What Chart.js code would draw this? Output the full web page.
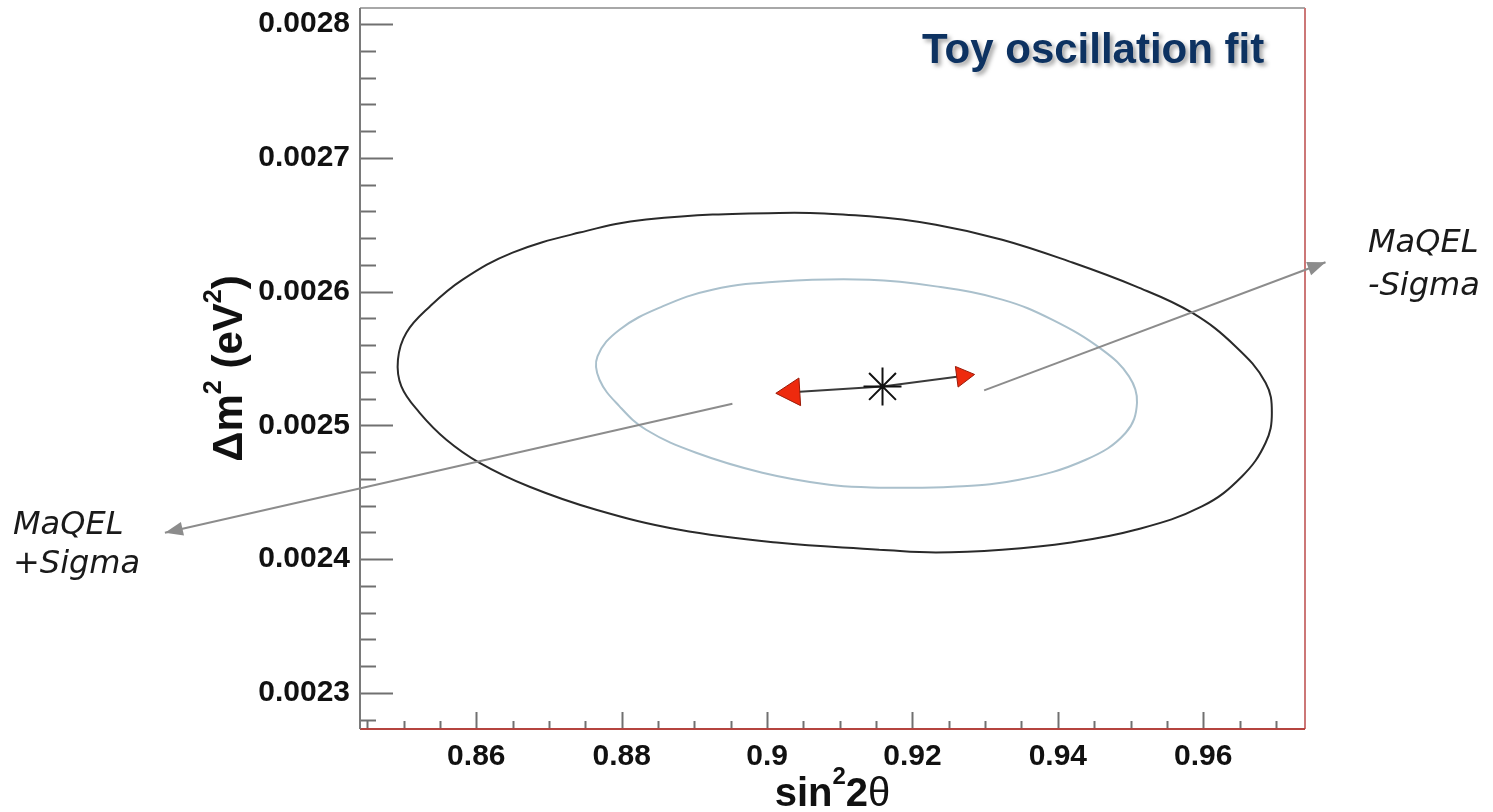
<!DOCTYPE html>
<html>
<head>
<meta charset="utf-8">
<script src="https://cdn.jsdelivr.net/npm/chart.js@4.4.0/dist/chart.umd.min.js"></script>
<style>
  html, body { margin: 0; padding: 0; background: #fff; }
  #wrap { width: 1493px; height: 812px; position: relative; }
</style>
</head>
<body>
<div id="wrap"><canvas id="grafico"></canvas></div>
<script>
// axis ticks
const xTicks = [0.86, 0.88, 0.9, 0.92, 0.94, 0.96];
const xTickLabels = ['0.86', '0.88', '0.9', '0.92', '0.94', '0.96'];
const yTicks = [0.0023, 0.0024, 0.0025, 0.0026, 0.0027, 0.0028];
const yTickLabels = ['0.0023', '0.0024', '0.0025', '0.0026', '0.0027', '0.0028'];

// outer contour (black)
const outerX = [0.84922, 0.85038, 0.85358, 0.85812, 0.86499, 0.87420, 0.88336, 0.90169, 0.91406, 0.92322,
                0.93234, 0.94154, 0.95071, 0.95845, 0.96445, 0.96858, 0.96944, 0.96858, 0.96532, 0.95982,
                0.95071, 0.94154, 0.93234, 0.92322, 0.91543, 0.90169, 0.88794, 0.87649, 0.86733, 0.86045,
                0.85588, 0.85221, 0.84969];
const outerY = [0.0025491, 0.0025693, 0.0025887, 0.0026089, 0.0026291, 0.0026441, 0.0026538, 0.0026588, 0.0026563, 0.0026500,
                0.0026388, 0.0026226, 0.0026039, 0.0025842, 0.0025590, 0.0025319, 0.0025094, 0.0024870, 0.0024618, 0.0024394,
                0.0024219, 0.0024122, 0.0024070, 0.0024050, 0.0024070, 0.0024122, 0.0024219, 0.0024369, 0.0024541, 0.0024720,
                0.0024893, 0.0025094, 0.0025291];

// inner contour (light blue)
const innerX = [0.87667, 0.87970, 0.88561, 0.89248, 0.90169, 0.91406, 0.92322, 0.93234, 0.93921, 0.94608,
                0.94979, 0.95089, 0.94934, 0.94384, 0.93467, 0.92546, 0.91543, 0.90856, 0.89935, 0.89024,
                0.88336, 0.87970, 0.87695];
const innerY = [0.0025515, 0.0025715, 0.0025889, 0.0026014, 0.0026076, 0.0026089, 0.0026039, 0.0025940, 0.0025790, 0.0025566,
                0.0025366, 0.0025169, 0.0024945, 0.0024743, 0.0024593, 0.0024541, 0.0024533, 0.0024556, 0.0024646, 0.0024795,
                0.0024967, 0.0025142, 0.0025341];

// fit points
const bestFit = [0.91588, 0.0025291];
const plusSigma = [0.90340, 0.0025247];
const minusSigma = [0.92691, 0.0025369];

// pointer arrows to the labels
const plusPointerX = [0.89523, 0.81716];
const plusPointerY = [0.0025162, 0.0024197];
const minusPointerX = [0.92986, 0.97682];
const minusPointerY = [0.0025261, 0.0026219];

// closed loop, starting at a flat part of the curve so the seam does not show
function toLoop(xs, ys, start) {
    const pts = [];
    for (let k = 0; k <= xs.length; k++) {
        const i = (start + k) % xs.length;
        pts.push({ x: xs[i], y: ys[i] });
    }
    return pts;
}

const FONT = 'Liberation Sans, Arial, Helvetica, sans-serif';
Chart.defaults.font.family = FONT;

function drawParts(ctx, parts, cx, baseline) {
    let total = 0;
    parts.forEach(p => { ctx.font = p.font; p.w = ctx.measureText(p.t).width; total += p.w; });
    let x = cx - total / 2;
    parts.forEach(p => {
        ctx.font = p.font;
        ctx.fillText(p.t, x, baseline - (p.rise || 0));
        x += p.w;
    });
}

function arrowHead(ctx, x0, y0, x1, y1, len, half, color) {
    const d = Math.hypot(x1 - x0, y1 - y0);
    const ux = (x1 - x0) / d, uy = (y1 - y0) / d;
    const bx = x1 - ux * len, by = y1 - uy * len;
    ctx.fillStyle = color;
    ctx.beginPath();
    ctx.moveTo(x1, y1);
    ctx.lineTo(bx - uy * half, by + ux * half);
    ctx.lineTo(bx + uy * half, by - ux * half);
    ctx.closePath();
    ctx.fill();
}

const framePlugin = {
    id: 'frame',
    beforeDatasetsDraw(chart) {
        const { ctx, chartArea: a, scales: { x, y } } = chart;
        ctx.save();
        ctx.lineWidth = 2;
        ctx.strokeStyle = '#707070';
        // y ticks (inside, to the right)
        for (let k = 0; k <= 26; k++) {
            const v = 0.00228 + k * 0.00002;
            if (v > y.max) break;
            const major = yTicks.some(t => Math.abs(t - v) < 1e-9);
            const py = Math.round(y.getPixelForValue(v)) + 0.5;
            ctx.beginPath();
            ctx.moveTo(a.left, py);
            ctx.lineTo(a.left + (major ? 33 : 16), py);
            ctx.stroke();
        }
        // x ticks (inside, upward)
        for (let k = 0; k <= 26; k++) {
            const v = 0.845 + k * 0.005;
            if (v > x.max) break;
            const major = xTicks.some(t => Math.abs(t - v) < 1e-9);
            const px = Math.round(x.getPixelForValue(v)) + 0.5;
            ctx.beginPath();
            ctx.moveTo(px, a.bottom);
            ctx.lineTo(px, a.bottom - (major ? 17 : 8));
            ctx.stroke();
        }
        // frame
        const seg = (c, x1, y1, x2, y2) => {
            ctx.strokeStyle = c;
            ctx.beginPath(); ctx.moveTo(x1, y1); ctx.lineTo(x2, y2); ctx.stroke();
        };
        seg('#a8a8a8', a.left, a.top, a.right, a.top);
        seg('#cc7777', a.right, a.top, a.right, a.bottom);
        seg('#b5443f', a.left, a.bottom, a.right, a.bottom);
        seg('#7a7a7a', a.left, a.top, a.left, a.bottom);
        ctx.restore();
    },
    afterDatasetsDraw(chart) {
        const { ctx, scales: { x, y } } = chart;
        ctx.save();
        arrowHead(ctx, x.getPixelForValue(plusPointerX[0]), y.getPixelForValue(plusPointerY[0]),
                  x.getPixelForValue(plusPointerX[1]), y.getPixelForValue(plusPointerY[1]), 18, 7, '#8c8c8c');
        arrowHead(ctx, x.getPixelForValue(minusPointerX[0]), y.getPixelForValue(minusPointerY[0]),
                  x.getPixelForValue(minusPointerX[1]), y.getPixelForValue(minusPointerY[1]), 18, 7, '#8c8c8c');
        ctx.restore();
    },
    afterDraw(chart) {
        const { ctx, chartArea: a } = chart;
        ctx.save();
        ctx.fillStyle = '#111';
        ctx.textBaseline = 'alphabetic';
        ctx.textAlign = 'left';

        // x title: sin^2 2theta
        const F = 40;
        drawParts(ctx, [
            { t: 'sin', font: `bold ${F}px ${FONT}` },
            { t: '2', font: `bold ${Math.round(F * 0.6)}px ${FONT}`, rise: F * 0.55 },
            { t: '2', font: `bold ${F}px ${FONT}` },
            { t: '\u03B8', font: `${F}px ${FONT}` }
        ], (a.left + a.right) / 2, 806);

        // y title: Δm^2 (eV^2)
        const G = 42;
        ctx.save();
        ctx.translate(242, (a.top + a.bottom) / 2);
        ctx.rotate(-Math.PI / 2);
        drawParts(ctx, [
            { t: '\u0394m', font: `bold ${G}px ${FONT}` },
            { t: '2', font: `bold ${Math.round(G * 0.6)}px ${FONT}`, rise: G * 0.5 },
            { t: ' (eV', font: `bold ${G}px ${FONT}` },
            { t: '2', font: `bold ${Math.round(G * 0.6)}px ${FONT}`, rise: G * 0.5 },
            { t: ')', font: `bold ${G}px ${FONT}` }
        ], 0, 0);
        ctx.restore();

        // title
        ctx.save();
        ctx.font = `bold 42px ${FONT}`;
        ctx.fillStyle = '#0d3261';
        ctx.shadowColor = 'rgba(0,0,0,0.35)';
        ctx.shadowOffsetX = 3;
        ctx.shadowOffsetY = 3;
        ctx.shadowBlur = 4;
        ctx.fillText('Toy oscillation fit', 922, 63);
        ctx.restore();

        // pointer labels
        ctx.font = `italic 32px "DejaVu Sans", Verdana, sans-serif`;
        ctx.fillStyle = '#1a1a1a';
        ctx.fillText('MaQEL', 13, 534);
        ctx.fillText('+Sigma', 13, 573);
        ctx.fillText('MaQEL', 1368, 252);
        ctx.fillText('-Sigma', 1368, 295);
        ctx.restore();
    }
};

const ctx = document.getElementById('grafico').getContext('2d');
new Chart(ctx, {
    type: 'scatter',
    data: {
        datasets: [
            {
                label: 'best fit',
                data: [{ x: bestFit[0], y: bestFit[1] }],
                pointStyle: 'star',
                pointRadius: 19,
                borderColor: '#111',
                backgroundColor: '#111',
                borderWidth: 2
            },
            {
                label: 'MaQEL +Sigma',
                data: [{ x: bestFit[0], y: bestFit[1] }, { x: plusSigma[0], y: plusSigma[1] }],
                showLine: true,
                borderColor: '#3a3a3a',
                borderWidth: 2,
                pointStyle: 'triangle',
                pointRadius: [0, 16],
                pointRotation: [0, -93.5],
                pointBackgroundColor: '#ee2a0e',
                pointBorderColor: '#9a1a08',
                pointBorderWidth: 1
            },
            {
                label: 'MaQEL -Sigma',
                data: [{ x: bestFit[0], y: bestFit[1] }, { x: minusSigma[0], y: minusSigma[1] }],
                showLine: true,
                borderColor: '#3a3a3a',
                borderWidth: 2,
                pointStyle: 'triangle',
                pointRadius: [0, 12],
                pointRotation: [0, 82.6],
                pointBackgroundColor: '#ee2a0e',
                pointBorderColor: '#9a1a08',
                pointBorderWidth: 1
            },
            {
                label: 'plus pointer',
                data: plusPointerX.map((v, i) => ({ x: v, y: plusPointerY[i] })),
                showLine: true,
                clip: false,
                borderColor: '#8c8c8c',
                borderWidth: 2,
                pointRadius: 0
            },
            {
                label: 'minus pointer',
                data: minusPointerX.map((v, i) => ({ x: v, y: minusPointerY[i] })),
                showLine: true,
                clip: false,
                borderColor: '#8c8c8c',
                borderWidth: 2,
                pointRadius: 0
            },
            {
                label: 'inner contour',
                data: toLoop(innerX, innerY, 16),
                showLine: true,
                borderColor: '#aac0cc',
                borderWidth: 2,
                pointRadius: 0,
                tension: 0.4
            },
            {
                label: 'outer contour',
                data: toLoop(outerX, outerY, 24),
                showLine: true,
                borderColor: '#2a2a2a',
                borderWidth: 2,
                pointRadius: 0,
                tension: 0.4
            }
        ]
    },
    options: {
        responsive: true,
        maintainAspectRatio: false,
        animation: false,
        layout: { autoPadding: false, padding: { top: 8, right: 188, left: 0, bottom: 0 } },
        plugins: { legend: { display: false }, tooltip: { enabled: false } },
        scales: {
            x: {
                type: 'linear',
                min: 0.844,
                max: 0.974,
                grid: { display: false, drawTicks: false },
                border: { display: false },
                afterBuildTicks: s => { s.ticks = xTicks.map(v => ({ value: v })); },
                afterFit: s => { s.height = 83; s.paddingLeft = 0; s.paddingRight = 0; },
                ticks: {
                    autoSkip: false,
                    maxRotation: 0,
                    padding: 10,
                    color: '#111',
                    font: { size: 30, weight: 'bold' },
                    callback: (v, i) => xTickLabels[i]
                }
            },
            y: {
                type: 'linear',
                min: 0.002273,
                max: 0.002812,
                grid: { display: false, drawTicks: false },
                border: { display: false },
                afterBuildTicks: s => { s.ticks = yTicks.map(v => ({ value: v })); },
                afterFit: s => { s.width = 360; s.paddingTop = 0; s.paddingBottom = 0; },
                ticks: {
                    autoSkip: false,
                    padding: 10,
                    color: '#111',
                    font: { size: 30, weight: 'bold' },
                    callback: (v, i) => yTickLabels[i]
                }
            }
        }
    },
    plugins: [framePlugin]
});
</script>
</body>
</html>
